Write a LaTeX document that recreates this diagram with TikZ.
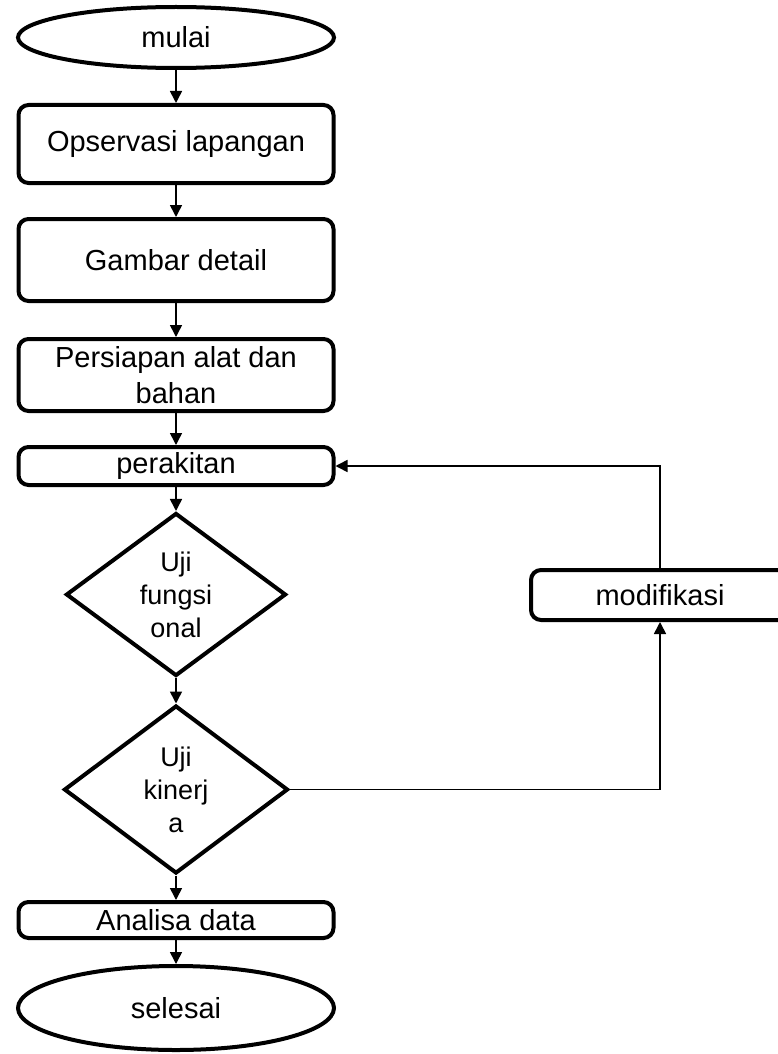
\documentclass[tikz,border=0pt]{standalone}
\usepackage{fontspec}
\setmainfont{Liberation Sans}
\usetikzlibrary{shapes.geometric,arrows.meta}
\begin{document}
\begin{tikzpicture}[x=1pt,y=-1pt,
  base/.style={draw=black,line width=4pt,fill=white,inner sep=0pt,
    font=\fontsize{29}{34}\selectfont,align=center},
  procbox/.style={base,rectangle,rounded corners=10pt,minimum width=315pt},
  term/.style={base,ellipse,minimum width=316pt},
  decide/.style={base,diamond,aspect=1.35},
  conn/.style={line width=1.6pt,-{Triangle[width=12pt,length=12pt]}}]
\useasboundingbox (0,0) rectangle (777,1054);
\node[term,minimum height=61pt] (mulai) at (176,37.5) {mulai};
\node[procbox,minimum height=78pt] (obs) at (176,144) {Opservasi lapangan};
\node[procbox,minimum height=82pt] (gbr) at (176,260) {Gambar detail};
\node[procbox,minimum height=72pt,font=\fontsize{29}{36}\selectfont] (prs) at (176,375) {Persiapan alat dan\\bahan};
\node[procbox,minimum height=38pt] (rakit) at (176,466) {perakitan};
\node[decide,minimum width=220pt,minimum height=163pt,font=\fontsize{27}{33}\selectfont] (ujif) at (176,594.5) {Uji\\fungsi\\onal};
\node[decide,minimum width=224pt,minimum height=168pt,font=\fontsize{27}{33}\selectfont] (ujik) at (176,789.5) {Uji\\kinerj\\a};
\node[procbox,minimum height=36pt] (anl) at (176,920) {Analisa data};
\node[term,minimum height=84pt] (sls) at (176,1008) {selesai};
\node[procbox,minimum width=258pt,minimum height=50pt] (mod) at (660,595) {modifikasi};
\draw[conn] (mulai) -- (obs);
\draw[conn] (obs) -- (gbr);
\draw[conn] (gbr) -- (prs);
\draw[conn] (prs) -- (rakit);
\draw[conn] (rakit) -- (ujif);
\draw[conn] (ujif) -- (ujik);
\draw[conn] (ujik) -- (anl);
\draw[conn] (anl) -- (sls);
\draw[conn] (ujik.east) -| (mod.south);
\draw[conn] (mod.north) |- (rakit.east);
\end{tikzpicture}
\end{document}
